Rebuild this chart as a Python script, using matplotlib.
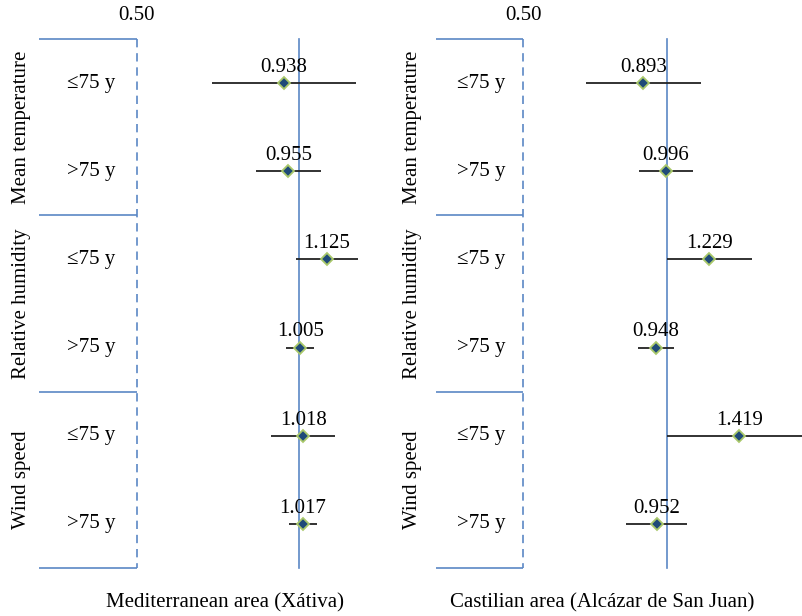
import numpy as np
import matplotlib
matplotlib.use('Agg')
import matplotlib.pyplot as plt
import matplotlib.transforms as mtransforms

plt.rcParams['font.family'] = ['Liberation Serif', 'DejaVu Serif']

# данные
groups = ['Mean temperature', 'Relative humidity', 'Wind speed']
age_groups = ['≤75 y', '>75 y']

med_rr = [0.938, 0.955, 1.125, 1.005, 1.018, 1.017]
med_lo = [0.690, 0.832, 0.987, 0.946, 0.887, 0.959]
med_hi = [1.276, 1.100, 1.285, 1.067, 1.166, 1.081]

cas_rr = [0.893, 0.996, 1.229, 0.948, 1.419, 0.952]
cas_lo = [0.677, 0.875, 1.000, 0.868, 1.000, 0.822]
cas_hi = [1.180, 1.134, 1.512, 1.036, 2.050, 1.105]

titles = ['Mediterranean area (Xátiva)', 'Castilian area (Alcázar de San Juan)']

W, H = 802, 616
fig = plt.figure(figsize=(W / 100, H / 100), dpi=100)

blue = '#5b87c5'
navy = '#1f4a78'
green = '#a9c86a'
fs = 15

# параметры панелей: левый край, правый край (px), пределы x, позиции подписей
panels = [
    dict(left=39, right=400, xlim=(0.329, 1.539), grp_x=22, row_x=91.5, title_x=225,
         rr=med_rr, lo=med_lo, hi=med_hi, title=titles[0]),
    dict(left=435.7, right=802, xlim=(0.327, 1.923), grp_x=413, row_x=481, title_x=602,
         rr=cas_rr, lo=cas_lo, hi=cas_hi, title=titles[1]),
]

top_px, bot_px = 39, 568
n_rows = len(groups) * len(age_groups)
y = np.arange(n_rows) + 0.5

for p in panels:
    ax = fig.add_axes([p['left'] / W, 1 - bot_px / H, (p['right'] - p['left']) / W, (bot_px - top_px) / H])
    ax.set_xscale('log', base=2)
    ax.set_xlim(*p['xlim'])
    ax.set_ylim(n_rows, 0)
    ax.axis('off')

    # рамка с подписями
    for k in range(len(groups) + 1):
        ax.plot([p['xlim'][0], 0.5], [2 * k, 2 * k], color=blue, lw=1.2,
                solid_capstyle='butt', clip_on=False)
    ax.plot([0.5, 0.5], [0, n_rows], color=blue, lw=1.2, dashes=(5, 3.5), clip_on=False)
    ax.plot([1, 1], [0, n_rows], color=blue, lw=1.2, clip_on=False)
    ax.text(0.5, -0.27, '0.50', ha='center', va='center', fontsize=fs, clip_on=False)

    trans = mtransforms.blended_transform_factory(fig.transFigure, ax.transData)
    for g, name in enumerate(groups):
        ax.text(p['grp_x'] / W, 2 * g + 1, name, rotation=90, ha='center', va='center',
                fontsize=fs, transform=trans)
        for a, lab in enumerate(age_groups):
            ax.text(p['row_x'] / W, 2 * g + a + 0.5, lab, ha='center', va='center',
                    fontsize=fs, transform=trans)

    # доверительные интервалы и точки
    ax.hlines(y, p['lo'], p['hi'], color='#222222', lw=1.3)
    ax.plot(p['rr'], y, 'D', ms=6, mfc=navy, mec=green, mew=1.3, zorder=5)
    for xv, yv in zip(p['rr'], y):
        ax.annotate(f'{xv:.3f}', (xv, yv), xytext=(0, 8), textcoords='offset points',
                    ha='center', va='baseline', fontsize=fs)

    fig.text(p['title_x'] / W, 1 - 603 / H, p['title'], ha='center', va='center', fontsize=fs)

fig.savefig('out.png', dpi=100)
